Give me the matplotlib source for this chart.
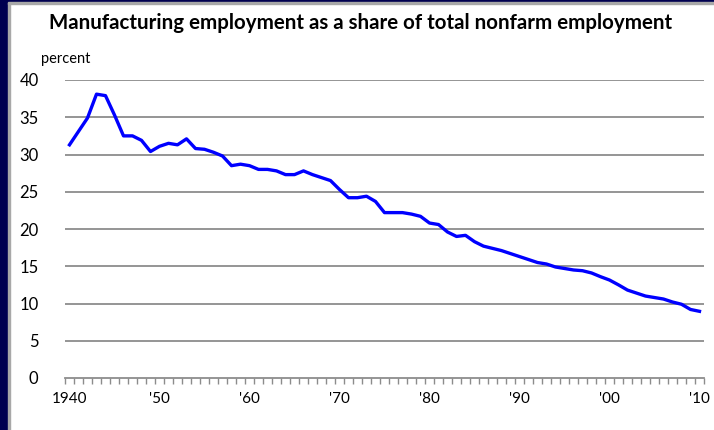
import matplotlib
matplotlib.use("Agg")
import matplotlib.pyplot as plt
from matplotlib.patches import Rectangle
import numpy as np

plt.rcParams['font.family'] = ['Lato', 'DejaVu Sans']

years = list(range(1940, 2011))
share = [31.3, 33.1, 34.9, 38.1, 37.9, 35.3, 32.5, 32.5, 31.9, 30.4,
         31.1, 31.5, 31.3, 32.1, 30.8, 30.7, 30.3, 29.8, 28.5, 28.7,
         28.5, 28.0, 28.0, 27.8, 27.3, 27.3, 27.8, 27.3, 26.9, 26.5,
         25.3, 24.2, 24.2, 24.4, 23.7, 22.2, 22.2, 22.2, 22.0, 21.7,
         20.8, 20.6, 19.6, 19.0, 19.15, 18.3, 17.7, 17.4, 17.1, 16.7,
         16.3, 15.9, 15.5, 15.3, 14.9, 14.7, 14.5, 14.4, 14.1, 13.6,
         13.15, 12.5, 11.8, 11.4, 11.0, 10.8, 10.6, 10.2, 9.9, 9.2,
         8.95]
xlabels = ["1940", "'50", "'60", "'70", "'80", "'90", "'00", "'10"]
yticks = [0, 5, 10, 15, 20, 25, 30, 35, 40]

fig = plt.figure(figsize=(7.14, 4.3), dpi=100)
W, H = 714, 430

# slide-style border
fig.patches.append(Rectangle((0, 0), 8 / W, 1, transform=fig.transFigure,
                             color="#000050", zorder=0))
fig.patches.append(Rectangle((8 / W, 0), 1.5 / W, 1, transform=fig.transFigure,
                             color="#a8a8a8", zorder=0))
fig.patches.append(Rectangle((0, 1 - 2 / H), 1, 2 / H, transform=fig.transFigure,
                             color="#000050", zorder=0))
fig.patches.append(Rectangle((8 / W, 1 - 3.5 / H), 1, 1.5 / H, transform=fig.transFigure,
                             color="#a8a8a8", zorder=0))

ax = fig.add_axes([65 / W, 1 - 378 / H, (704 - 65) / W, (378 - 80) / H])
x = np.arange(len(years))
ax.plot(x, share, color="#0000ff", lw=2.4, solid_joinstyle="round", zorder=3)

ax.set_xlim(-0.5, len(years) - 0.5)
ax.set_ylim(0, 40)
ax.set_yticks(yticks)
ax.set_yticklabels([str(v) for v in yticks], fontsize=12)
for v in yticks[1:]:
    ax.axhline(v, color="#8c8c8c", lw=1.3, zorder=1)

ax.set_xticks([years.index(y) for y in range(1940, 2011, 10)])
ax.set_xticklabels(xlabels, fontsize=11)
ax.set_xticks(np.arange(-0.5, len(years), 1), minor=True)
ax.tick_params(axis="x", which="major", length=0, pad=10)
ax.tick_params(axis="x", which="minor", length=4, color="#8c8c8c", width=1)
ax.tick_params(axis="y", length=0, pad=19)

for s in ["top", "right", "left"]:
    ax.spines[s].set_visible(False)
ax.spines["bottom"].set_color("#8c8c8c")
ax.spines["bottom"].set_linewidth(1.3)

fig.text(361 / W, 1 - 23 / H, "Manufacturing employment as a share of total nonfarm employment",
         ha="center", va="center", fontsize=14.8, fontweight="bold")
fig.text(41 / W, 1 - 59 / H, "percent", ha="left", va="center", fontsize=10.5)

fig.savefig("out.png", dpi=100)
